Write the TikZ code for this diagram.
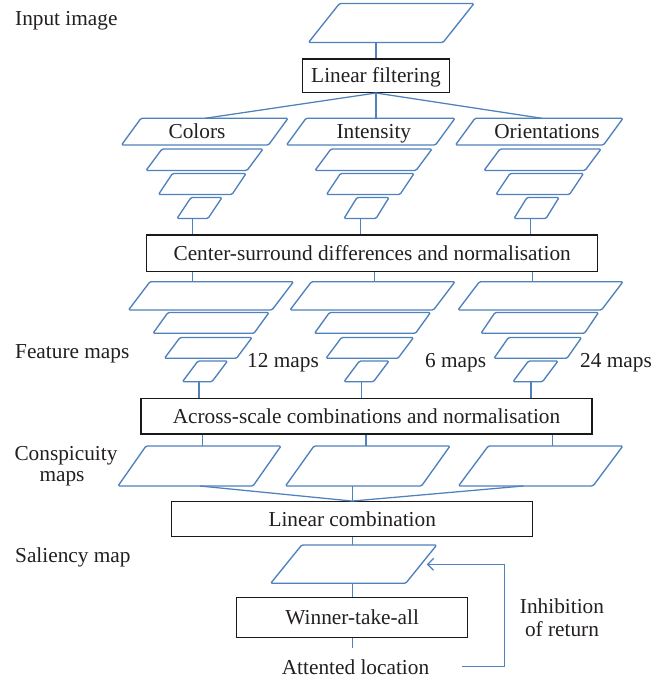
\documentclass[tikz,border=0pt]{standalone}
\usepackage{fontspec}
\setmainfont{Liberation Serif}
\usetikzlibrary{arrows.meta}
\definecolor{lblue}{RGB}{79,129,189}
\definecolor{txt}{RGB}{35,31,32}
\newcommand{\pgm}[5]{\draw[pg] (#1,#2) -- (#1+#5,#2) -- (#3+#5,#4) -- (#3,#4) -- cycle;}
\begin{document}
\begin{tikzpicture}[x=1pt,y=-1pt,
  pg/.style={draw=lblue,line width=1.35pt,rounded corners=1.3pt,line join=round},
  conn/.style={draw=lblue,line width=1.25pt},
  lbl/.style={font=\fontsize{21.3}{21}\selectfont,text=txt,inner sep=0pt},
  procbox/.style={draw=black!90,line width=1.3pt,font=\fontsize{21.3}{21}\selectfont,text=txt,
    text height=14pt,text depth=0pt,inner sep=0pt}]
\useasboundingbox[fill=white] (0,0) rectangle (667,678);

% ---------- labels on the left ----------
\node[lbl,anchor=base west] (inT) at (15,25.7) {Input image};
\node[lbl,anchor=base west] (feT) at (15,358.3) {Feature maps};
\node[lbl,anchor=base] (coT1) at (66,460.7) {Conspicuity};
\node[lbl,anchor=base] (coT2) at (62,481.7) {maps};
\node[lbl,anchor=base west] (saT) at (15,562) {Saliency map};

% ---------- input image ----------
\pgm{339.5}{3.5}{308.5}{42.5}{134.5}
\coordinate (tpB) at (376,42.5);
\node[procbox,minimum width=147.3pt,minimum height=33.3pt] (lf) at (376,75.7) {Linear filtering};
\draw[conn] (tpB) -- (lf.north);

% ---------- upper pyramids ----------
% level A
\pgm{141}{118.3}{121.5}{145}{147}
\pgm{306}{118.3}{286.5}{145}{149}
\pgm{475}{118.3}{455.5}{145}{148}
\node[lbl,anchor=base] (colT) at (197,138.3) {Colors};
\node[lbl,anchor=base] (intT) at (373.8,138.3) {Intensity};
\node[lbl,anchor=base] (oriT) at (547,138.3) {Orientations};
\coordinate (cAt) at (205,118.3);
\coordinate (iAt) at (376,118.3);
\coordinate (oAt) at (542,118.3);
\draw[conn] (lf.south) -- (cAt);
\draw[conn] (lf.south) -- (iAt);
\draw[conn] (lf.south) -- (oAt);
% level B
\pgm{162}{149}{146}{170.5}{101}
\pgm{331}{149}{315}{170.5}{101}
\pgm{500}{149}{484}{170.5}{101}
% level C
\pgm{172.5}{173.5}{158.5}{194.5}{73.5}
\pgm{340.5}{173.5}{326.5}{194.5}{73.5}
\pgm{510}{173.5}{496}{194.5}{73.5}
% level D
\pgm{191}{197.5}{177}{218.5}{31}
\pgm{357}{197.5}{344}{218.5}{32}
\pgm{527}{197.5}{514}{218.5}{32}
\coordinate (cDb) at (192.3,218.5);
\coordinate (iDb) at (360.2,218.5);
\coordinate (oDb) at (530.7,218.5);

\node[procbox,minimum width=451pt,minimum height=36.7pt] (cs) at (372.2,253.3)
  {Center-surround differences and normalisation};
\draw[conn] (cDb) -- (cDb |- cs.north);
\draw[conn] (iDb) -- (iDb |- cs.north);
\draw[conn] (oDb) -- (oDb |- cs.north);

% ---------- feature maps ----------
\coordinate (lP1t) at (192.3,281.7);
\coordinate (mP1t) at (374.5,281.7);
\coordinate (rP1t) at (532.7,281.7);
\draw[conn] (lP1t |- cs.south) -- (lP1t);
\draw[conn] (mP1t |- cs.south) -- (mP1t);
\draw[conn] (rP1t |- cs.south) -- (rP1t);
% P1
\pgm{150}{281.7}{128.5}{310}{143.5}
\pgm{311.5}{281.7}{290}{310}{143.5}
\pgm{479.5}{281.7}{458}{310}{143.5}
% P2
\pgm{168}{312.5}{153}{333.3}{101}
\pgm{329.5}{312.5}{314.5}{333.3}{101}
\pgm{495}{312.5}{481}{333.3}{103.5}
% P3
\pgm{180}{337.5}{164.5}{358.3}{72}
\pgm{341.5}{337.5}{326}{358.3}{72}
\pgm{508.5}{337.5}{494}{358.3}{73}
% P4
\pgm{198}{361}{182.5}{381.7}{29.5}
\pgm{359.5}{361}{344}{381.7}{29.5}
\pgm{528.5}{361}{513}{381.7}{29.5}
\node[lbl,anchor=base west] (m12) at (247,367) {12 maps};
\node[lbl,anchor=base west] (m6) at (425,367) {6 maps};
\node[lbl,anchor=base west] (m24) at (580,367) {24 maps};
\coordinate (lP4b) at (199,381.7);
\coordinate (mP4b) at (361.7,381.7);
\coordinate (rP4b) at (531,381.7);

\node[procbox,minimum width=451pt,minimum height=35.7pt] (as) at (366.5,416.2)
  {Across-scale combinations and normalisation};
\draw[conn] (lP4b) -- (lP4b |- as.north);
\draw[conn] (mP4b) -- (mP4b |- as.north);
\draw[conn] (rP4b) -- (rP4b |- as.north);

% ---------- conspicuity maps ----------
\coordinate (c1t) at (202.3,446);
\coordinate (c2t) at (366,446);
\coordinate (c3t) at (552.3,446);
\draw[conn] (c1t |- as.south) -- (c1t);
\draw[conn] (c2t |- as.south) -- (c2t);
\draw[conn] (c3t |- as.south) -- (c3t);
\pgm{146}{446}{118}{486}{135}
\pgm{314}{446}{285.5}{486}{136}
\pgm{488.3}{446}{458.5}{486}{134.5}
\coordinate (c1b) at (200,486);
\coordinate (c2b) at (352.2,486);
\coordinate (c3b) at (523.3,486);

\node[procbox,minimum width=361pt,minimum height=35pt] (lc) at (352.2,519.2) {Linear combination};
\draw[conn] (c1b) -- (lc.north);
\draw[conn] (c2b) -- (lc.north);
\draw[conn] (c3b) -- (lc.north);

% ---------- saliency map ----------
\coordinate (sat) at (352.2,545);
\coordinate (sab) at (352.2,583.3);
\draw[conn] (lc.south) -- (sat);
\pgm{301.7}{545}{270.7}{583.3}{135}

\node[procbox,minimum width=231pt,minimum height=39.6pt] (wta) at (352.2,617.5) {Winner-take-all};
\draw[conn] (sab) -- (wta.north);
\coordinate (attTop) at (352.2,648.3);
\draw[conn] (wta.south) -- (attTop);
\node[lbl,anchor=base] (att) at (355.5,674) {Attented location};

% ---------- inhibition of return ----------
\coordinate (fbS) at (462.3,666.7);
\coordinate (fbE) at (426.7,564.3);
\draw[conn,-{Straight Barb[length=6pt,width=12pt]}] (fbS) -- (504.3,666.7) |- (fbE);
\node[lbl,anchor=base] (inh1) at (562,613.3) {Inhibition};
\node[lbl,anchor=base] (inh2) at (562,636) {of return};
\end{tikzpicture}
\end{document}
